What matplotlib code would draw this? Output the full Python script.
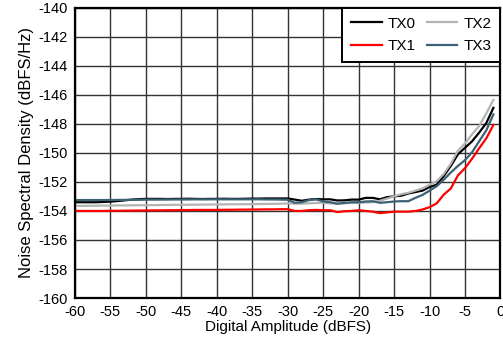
import numpy as np
import matplotlib
matplotlib.use("Agg")
import matplotlib.pyplot as plt

plt.rcParams['font.family'] = ['Liberation Sans', 'DejaVu Sans']

amp = list(range(-60, 0))  # -60 .. -1 dBFS

tx0 = [-153.40, -153.40, -153.40, -153.40, -153.38, -153.36, -153.32, -153.27, -153.22, -153.19,
       -153.17, -153.17, -153.17, -153.18, -153.17, -153.17, -153.16, -153.17, -153.18, -153.17,
       -153.17, -153.16, -153.17, -153.17, -153.16, -153.15, -153.15, -153.14, -153.14, -153.14,
       -153.14, -153.22, -153.30, -153.22, -153.18, -153.20, -153.20, -153.28, -153.27, -153.22,
       -153.22, -153.10, -153.10, -153.20, -153.05, -153.00, -152.95, -152.80, -152.70, -152.60,
       -152.35, -152.20, -151.60, -150.90, -150.10, -149.65, -149.20, -148.60, -147.95, -146.90]

tx1 = [-154.00, -154.00, -154.00, -154.00, -154.00, -153.99, -153.99, -153.98, -153.98, -153.97,
       -153.97, -153.96, -153.96, -153.95, -153.95, -153.94, -153.94, -153.93, -153.93, -153.93,
       -153.93, -153.92, -153.92, -153.91, -153.91, -153.90, -153.90, -153.89, -153.89, -153.88,
       -153.88, -154.00, -154.00, -153.95, -153.93, -153.95, -153.95, -154.08, -154.02, -154.00,
       -153.95, -154.00, -154.05, -154.15, -154.10, -154.05, -154.05, -154.05, -154.00, -153.90,
       -153.74, -153.48, -152.88, -152.45, -151.55, -151.05, -150.40, -149.68, -149.00, -148.08]

tx2 = [-153.65, -153.65, -153.64, -153.64, -153.63, -153.63, -153.62, -153.62, -153.61, -153.61,
       -153.60, -153.60, -153.59, -153.59, -153.58, -153.58, -153.57, -153.57, -153.56, -153.56,
       -153.55, -153.55, -153.54, -153.54, -153.53, -153.53, -153.52, -153.52, -153.51, -153.50,
       -153.48, -153.50, -153.50, -153.47, -153.45, -153.45, -153.48, -153.50, -153.47, -153.45,
       -153.45, -153.42, -153.40, -153.30, -153.15, -153.00, -152.85, -152.75, -152.60, -152.45,
       -152.20, -151.95, -151.45, -150.75, -149.85, -149.35, -148.72, -148.15, -147.28, -146.35]

tx3 = [-153.25, -153.25, -153.25, -153.25, -153.25, -153.25, -153.24, -153.24, -153.23, -153.23,
       -153.22, -153.22, -153.22, -153.21, -153.21, -153.21, -153.21, -153.20, -153.20, -153.20,
       -153.20, -153.20, -153.20, -153.20, -153.20, -153.20, -153.20, -153.21, -153.21, -153.22,
       -153.23, -153.44, -153.40, -153.25, -153.20, -153.35, -153.40, -153.50, -153.45, -153.40,
       -153.40, -153.35, -153.33, -153.44, -153.40, -153.35, -153.33, -153.33, -153.10, -152.90,
       -152.60, -152.30, -151.85, -151.35, -150.90, -150.50, -149.95, -149.20, -148.45, -147.35]

series = [("TX0", tx0, "#000000"), ("TX1", tx1, "#ff0000"),
          ("TX2", tx2, "#b4b4b4"), ("TX3", tx3, "#3a6174")]

xticks = list(range(-60, 1, 5))
yticks = list(range(-160, -139, 2))

fig = plt.figure(figsize=(5.03, 3.47), dpi=100)
ax = fig.add_axes([0.149, 0.141, 0.846, 0.837])

for name, vals, col in series:
    ax.plot(amp, vals, color=col, lw=1.6, label=name)

ax.set_xlim(-60, 0)
ax.set_ylim(-160, -140)
ax.set_xticks(xticks)
ax.set_yticks(yticks)
ax.set_xticklabels([str(t) for t in xticks])
ax.set_yticklabels([str(t) for t in yticks])
ax.tick_params(length=0, labelsize=10.5, pad=5, colors='#000000')
ax.grid(True, color='#333333', lw=1.0)
ax.set_axisbelow(True)
for s in ax.spines.values():
    s.set_linewidth(1.6)
    s.set_color('black')

ax.set_xlabel("Digital Amplitude (dBFS)", fontsize=11, labelpad=1)
ax.set_ylabel("Noise Spectral Density (dBFS/Hz)", fontsize=12, labelpad=3)

leg = ax.legend(ncol=2, loc='upper right', bbox_to_anchor=(1.0, 1.0),
                borderaxespad=0.0, fontsize=11, frameon=True, fancybox=False,
                handlelength=2.0, handletextpad=0.4, columnspacing=0.7,
                labelspacing=0.55, borderpad=0.6)
leg.get_frame().set_edgecolor('black')
leg.get_frame().set_linewidth(1.4)
leg.get_frame().set_alpha(1)

fig.savefig("out.png", dpi=100)
